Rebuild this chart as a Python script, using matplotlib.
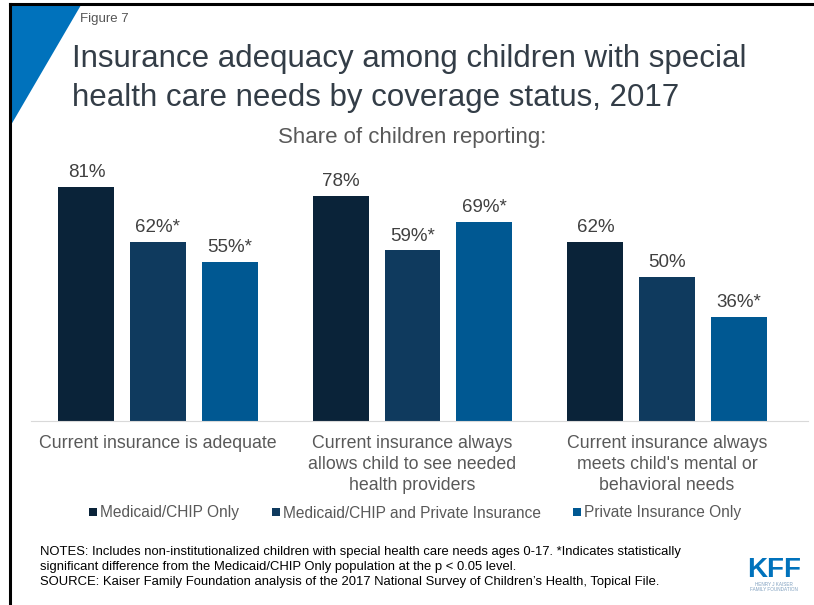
import numpy as np
import matplotlib.pyplot as plt
from matplotlib.patches import Polygon, Rectangle
from matplotlib.lines import Line2D

plt.rcParams['font.family'] = ['Liberation Sans', 'DejaVu Sans']

categories = ['Current insurance is adequate',
              'Current insurance always\nallows child to see needed\nhealth providers',
              "Current insurance always\nmeets child's mental or\nbehavioral needs"]
series = ['Medicaid/CHIP Only', 'Medicaid/CHIP and Private Insurance', 'Private Insurance Only']
values = [[81, 78, 62],
          [62, 59, 50],
          [55, 69, 36]]
significant = [[False, False, False],
               [True, True, False],
               [True, True, True]]
colors = ['#0a2339', '#0f3a5e', '#005892']

W, H = 814, 605
fig = plt.figure(figsize=(W / 100, H / 100), dpi=100)

def px(x, y):
    return x / W, 1 - y / H

# frame and corner triangle
fig.add_artist(Line2D([10 / W, 10 / W], [0, 1 - 4 / H], color='black', lw=2.2))
fig.add_artist(Line2D([10 / W, 1], [1 - 4 / H, 1 - 4 / H], color='black', lw=2.2))
fig.add_artist(Polygon([px(11, 5), px(81, 5), px(11, 125)], closed=True,
                       facecolor='#0072bc', edgecolor='none', transform=fig.transFigure))

fig.text(*px(80, 19), 'Figure 7', fontsize=9.5, color='#555555', va='center')
fig.text(*px(72, 59), 'Insurance adequacy among children with special',
         fontsize=22.5, color='#333d47', va='center')
fig.text(*px(72, 98), 'health care needs by coverage status, 2017',
         fontsize=22.5, color='#333d47', va='center')
fig.text(*px(412, 138), 'Share of children reporting:', fontsize=16,
         color='#595959', va='center', ha='center')

# bars
ax = fig.add_axes([31 / W, (H - 421) / H, 777 / W, 289 / H])
x = np.arange(len(categories))
step, width = 0.281, 0.22
for i, name in enumerate(series):
    xs = x + (i - 1) * step
    bars = ax.bar(xs, values[i], width, color=colors[i], label=name)
    for b, v, s in zip(bars, values[i], significant[i]):
        ax.annotate(f'{v}%' + ('*' if s else ''), (b.get_x() + b.get_width() / 2, v),
                    xytext=(0, 4), textcoords='offset points', ha='center', va='bottom',
                    fontsize=13.5, color='#404040')
ax.set_xlim(-0.499, 2.554)
ax.set_ylim(0, 100)
for side in ['left', 'right', 'top']:
    ax.spines[side].set_visible(False)
ax.spines['bottom'].set_color('#d9d9d9')
ax.set_yticks([])
ax.set_xticks(x)
ax.set_xticklabels(categories, fontsize=12.8, color='#595959', linespacing=1.3, va='top')
ax.tick_params(axis='x', length=0, pad=10)

# legend
legend_x = [89, 272, 573]
for lx, name, c in zip(legend_x, series, colors):
    fig.add_artist(Rectangle(px(lx, 516), 8 / W, 8 / H, facecolor=c, edgecolor='none',
                             transform=fig.transFigure))
    fig.text(*px(lx + 11, 513), name, fontsize=11.2, color='#595959', va='center')

notes = ('NOTES: Includes non-institutionalized children with special health care needs ages 0-17. '
         '*Indicates statistically\nsignificant difference from the Medicaid/CHIP Only population at the p < 0.05 level.\n'
         "SOURCE: Kaiser Family Foundation analysis of the 2017 National Survey of Children\u2019s Health, Topical File.")
fig.text(*px(40, 546), notes, fontsize=9.4, color='black', va='top', linespacing=1.35)

# logo
fig.text(*px(774, 570), 'KFF', fontsize=20, fontweight='bold', color='#0072bc',
         ha='center', va='center')
fig.text(*px(774, 587), 'HENRY J KAISER\nFAMILY FOUNDATION', fontsize=3.3, color='#7f9fbf',
         ha='center', va='center', linespacing=1.1)

fig.savefig('out.png', dpi=100)
